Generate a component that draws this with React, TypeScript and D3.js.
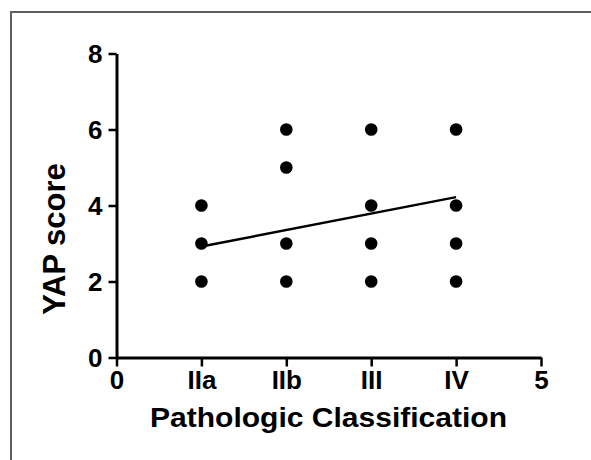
import React, { useEffect, useRef } from 'react';
import * as d3 from 'd3';

// category positions on the x axis (0..5 numeric, labelled in between)
const xTickValues = [0, 1, 2, 3, 4, 5];
const xTickLabels = ['0', 'IIa', 'IIb', 'III', 'IV', '5'];
const yTickValues = [0, 2, 4, 6, 8];

// scores per classification group
const groupIIa = [4, 3, 2];
const groupIIb = [6, 5, 3, 2];
const groupIII = [6, 4, 3, 2];
const groupIV = [6, 4, 3, 2];

// regression line endpoints
const fitX = [1, 4];
const fitY = [2.92, 4.22];

const App = () => {
  const chartRef = useRef<SVGSVGElement>(null);

  useEffect(() => {
    const svg = d3.select(chartRef.current);
    svg.selectAll('*').remove();

    const width = 591;
    const height = 460;
    const font = '"Liberation Sans", Arial, sans-serif';

    svg.append('rect').attr('width', width).attr('height', height).attr('fill', '#fff');

    // frame (top + left edges visible)
    svg.append('path')
      .attr('d', `M11,${height} V12 H${width}`)
      .attr('fill', 'none')
      .attr('stroke', '#5f5f5f')
      .attr('stroke-width', 2);

    const x = d3.scaleLinear().domain([0, 5]).range([116.5, 541]);
    const y = d3.scaleLinear().domain([0, 8]).range([357.5, 53.5]);

    const xAxis = svg.append('g')
      .attr('transform', `translate(0,${y(0)})`)
      .call(d3.axisBottom(x)
        .tickValues(xTickValues)
        .tickFormat((d, i) => xTickLabels[i])
        .tickSize(9)
        .tickSizeOuter(0)
        .tickPadding(4));

    const yAxis = svg.append('g')
      .attr('transform', `translate(${x(0)},0)`)
      .call(d3.axisLeft(y)
        .tickValues(yTickValues)
        .tickFormat(d3.format('d'))
        .tickSize(8)
        .tickSizeOuter(0)
        .tickPadding(6));

    [xAxis, yAxis].forEach(g => {
      g.select('.domain').attr('stroke', '#000').attr('stroke-width', 3);
      g.selectAll('.tick line').attr('stroke', '#000').attr('stroke-width', 2.5);
      g.selectAll('.tick text')
        .attr('fill', '#000')
        .attr('font-family', font)
        .attr('font-weight', 'bold')
        .attr('font-size', 26);
    });
    yAxis.selectAll('.tick text').attr('dy', '0.36em');

    const points = [
      ...groupIIa.map(v => ({ x: 1, y: v })),
      ...groupIIb.map(v => ({ x: 2, y: v })),
      ...groupIII.map(v => ({ x: 3, y: v })),
      ...groupIV.map(v => ({ x: 4, y: v })),
    ];

    svg.append('g')
      .selectAll('circle')
      .data(points)
      .join('circle')
        .attr('cx', d => x(d.x))
        .attr('cy', d => y(d.y))
        .attr('r', 6.3)
        .attr('fill', '#000');

    const line = d3.line<number>()
      .x(d => x(d))
      .y((d, i) => y(fitY[i]));

    svg.append('path')
      .datum(fitX)
      .attr('d', line)
      .attr('fill', 'none')
      .attr('stroke', '#000')
      .attr('stroke-width', 2.5);

    svg.append('text')
      .attr('x', 150)
      .attr('y', 427)
      .attr('font-family', font)
      .attr('font-weight', 'bold')
      .attr('font-size', 28)
      .attr('textLength', 357)
      .attr('lengthAdjust', 'spacingAndGlyphs')
      .attr('fill', '#000')
      .text('Pathologic Classification');

    svg.append('text')
      .attr('transform', `translate(65,239) rotate(-90)`)
      .attr('text-anchor', 'middle')
      .attr('font-family', font)
      .attr('font-weight', 'bold')
      .attr('font-size', 31)
      .attr('fill', '#000')
      .text('YAP score');
  }, []);

  return (
    <svg
      ref={chartRef}
      width="591"
      height="460"
      style={{ position: 'absolute', left: 0, top: 0 }}
    ></svg>
  );
};

export default App;
